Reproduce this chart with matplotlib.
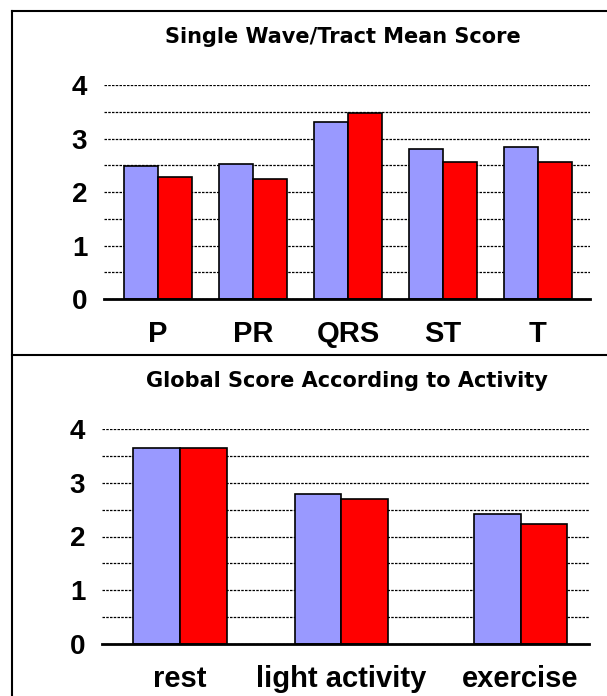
import numpy as np
import matplotlib
matplotlib.use("Agg")
import matplotlib.pyplot as plt
from matplotlib.lines import Line2D

plt.rcParams['font.family'] = ['Liberation Sans', 'DejaVu Sans']

# top panel: single wave / tract mean score
waves = ['P', 'PR', 'QRS', 'ST', 'T']
wave_blue = [2.49, 2.52, 3.30, 2.80, 2.84]
wave_red = [2.28, 2.25, 3.48, 2.56, 2.56]

# bottom panel: global score according to activity
activities = ['rest', 'light activity', 'exercise']
act_blue = [3.65, 2.79, 2.42]
act_red = [3.65, 2.69, 2.23]

BLUE = '#9999FF'
RED = '#FF0000'

W, H = 607, 696
fig = plt.figure(figsize=(W / 100, H / 100), dpi=100)


def px_axes(x0, x1, ytop, ybot):
	return fig.add_axes([x0 / W, 1 - ybot / H, (x1 - x0) / W, (ybot - ytop) / H])


def style(ax, xpos, labels, xlim):
	ax.set_ylim(0, 4)
	ax.set_xlim(*xlim)
	ax.set_yticks([0, 1, 2, 3, 4])
	ax.set_yticklabels(['0', '1', '2', '3', '4'], fontsize=20, fontweight='bold')
	ax.set_yticks(np.arange(0.5, 4, 1.0), minor=True)
	ax.yaxis.grid(True, which='both', color='black', linestyle=(0, (2, 1)), linewidth=0.9)
	ax.set_axisbelow(True)
	ax.set_xticks(xpos)
	ax.set_xticklabels(labels, fontsize=21, fontweight='bold')
	ax.tick_params(axis='both', which='both', length=0)
	ax.tick_params(axis='y', pad=12)
	ax.tick_params(axis='x', pad=15)
	for s in ['top', 'right', 'left']:
		ax.spines[s].set_visible(False)
	ax.spines['bottom'].set_linewidth(2.0)
	ax.spines['bottom'].set_zorder(5)


# top chart
ax1 = px_axes(104, 590, 85, 299)
x1 = np.arange(len(waves))
bw1 = 0.36
ax1.bar(x1 - bw1 / 2, wave_blue, bw1, color=BLUE, edgecolor='black', linewidth=1.2, zorder=3)
ax1.bar(x1 + bw1 / 2, wave_red, bw1, color=RED, edgecolor='black', linewidth=1.2, zorder=3)
style(ax1, x1, waves, (-0.57, 4.55))

# bottom chart
ax2 = px_axes(102, 589, 429, 644)
x2 = np.array([0, 1, 2.11])
bw2 = 0.289
ax2.bar(x2 - bw2 / 2, act_blue, bw2, color=BLUE, edgecolor='black', linewidth=1.2, zorder=3)
ax2.bar(x2 + bw2 / 2, act_red, bw2, color=RED, edgecolor='black', linewidth=1.2, zorder=3)
style(ax2, x2, activities, (-0.483, 2.534))

fig.text(343 / W, 1 - 37 / H, 'Single Wave/Tract Mean Score', ha='center', va='center',
	fontsize=15, fontweight='bold', family=['DejaVu Sans'])
fig.text(347 / W, 1 - 381 / H, 'Global Score According to Activity', ha='center', va='center',
	fontsize=15, fontweight='bold', family=['DejaVu Sans'])

# outer frame
lw = 1.5
fig.add_artist(Line2D([12 / W, 12 / W], [1 - 11 / H, 0], color='black', linewidth=lw))
fig.add_artist(Line2D([12 / W, 1], [1 - 11 / H, 1 - 11 / H], color='black', linewidth=lw))
fig.add_artist(Line2D([12 / W, 1], [1 - 355 / H, 1 - 355 / H], color='black', linewidth=lw))

fig.savefig('out.png', dpi=100)
